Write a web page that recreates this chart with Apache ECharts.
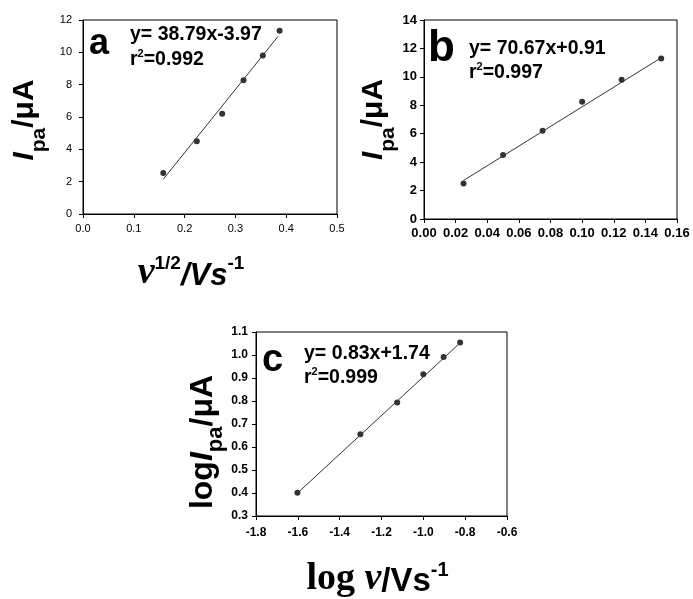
<!DOCTYPE html>
<html><head><meta charset="utf-8">
<script src="https://cdn.jsdelivr.net/npm/echarts@6/dist/echarts.min.js"></script>
<style>html,body{margin:0;padding:0;background:#fff}#c{width:693px;height:599px}</style>
</head><body><div id="c"></div>
<script>
// Panel a: Ipa vs v^(1/2)
var sqrtV = [0.158, 0.224, 0.274, 0.316, 0.354, 0.387];
var ipaA = [2.53, 4.5, 6.2, 8.27, 9.8, 11.33];
var fitA = [[0.158, 2.15], [0.384, 10.99]];
// Panel b: Ipa vs v
var scanV = [0.025, 0.05, 0.075, 0.1, 0.125, 0.15];
var ipaB = [2.5, 4.5, 6.2, 8.25, 9.8, 11.3];
var fitB = [[0.025, 2.71], [0.1505, 11.38]];
// Panel c: log Ipa vs log v
var logV = [-1.602, -1.301, -1.125, -1.0, -0.903, -0.824];
var logIpa = [0.401, 0.655, 0.793, 0.916, 0.991, 1.054];
var fitC = [[-1.6, 0.401], [-0.82, 1.056]];

var eqA = ['y= 38.79x-3.97', '0.992'];
var eqB = ['y= 70.67x+0.91', '0.997'];
var eqC = ['y= 0.83x+1.74', '0.999'];

function zip(a, b) { return a.map(function (v, i) { return [v, b[i]]; }); }

var chart = echarts.init(document.getElementById('c'), null, {renderer: 'canvas'});
var F = 'Arial, "Liberation Sans", sans-serif';
var S = '"Liberation Serif", "Times New Roman", serif';

function gridDef(l, t, w, h) {
  return {left: l, top: t, width: w, height: h, show: true, borderColor: '#000', borderWidth: 1, backgroundColor: 'transparent', containLabel: false};
}
function axisBase(lblSize, bold, margin) {
  return {
    axisLine: {show: true, onZero: false, lineStyle: {color: '#000', width: 1}},
    axisTick: {show: true, inside: false, length: 4, lineStyle: {color: '#000'}},
    splitLine: {show: false},
    axisLabel: {color: '#000', fontFamily: F, fontSize: lblSize, fontWeight: bold ? 'bold' : 'normal', margin: margin}
  };
}
function mk(o, extra) { return Object.assign({}, o, extra); }

function yRich(fs, sfs) {
  return {
    i: {fontFamily: F, fontSize: fs, fontStyle: 'italic', fontWeight: 'bold', color: '#000', lineHeight: 40, verticalAlign: 'top'},
    s: {fontFamily: F, fontSize: sfs, fontWeight: 'bold', color: '#000', lineHeight: 18, verticalAlign: 'bottom'},
    n: {fontFamily: F, fontSize: fs, fontWeight: 'bold', color: '#000', lineHeight: 40, verticalAlign: 'top'},
    lg: {fontFamily: F, fontSize: fs, fontWeight: 'bold', color: '#000', lineHeight: 40, verticalAlign: 'top'}
  };
}
function eqRich() {
  return {t: {font: 'bold 19.5px ' + F, fill: '#000', lineHeight: 22, verticalAlign: 'bottom'}, p: {font: 'bold 11px ' + F, fill: '#000', lineHeight: 11, verticalAlign: 'top'}};
}

var option = {
  animation: false,
  backgroundColor: '#fff',
  grid: [gridDef(83, 20, 254, 194), gridDef(424, 20, 253, 199), gridDef(256, 332, 251, 198)],
  xAxis: [
    mk(axisBase(11, false, 9), {gridIndex: 0, type: 'value', min: 0, max: 0.5, interval: 0.1,
      axisLabel: {color: '#000', fontFamily: F, fontSize: 11, margin: 9, formatter: function (v) { return v.toFixed(1); }},
      name: '{nu|ν}{sup|1/2}{n|/Vs}{sup|-1}', nameLocation: 'middle', nameGap: 40,
      nameTextStyle: {padding: [0, 38, 0, 0], rich: {
        nu: {fontFamily: S, fontSize: 38, fontStyle: 'italic', fontWeight: 'bold', color: '#000', lineHeight: 38, verticalAlign: 'bottom'},
        sup: {fontFamily: F, fontSize: 19, fontWeight: 'bold', color: '#000', lineHeight: 19, verticalAlign: 'top'},
        n: {fontFamily: F, fontSize: 31, fontStyle: 'italic', fontWeight: 'bold', color: '#000', lineHeight: 38, verticalAlign: 'bottom'}
      }}}),
    mk(axisBase(13, true, 8), {gridIndex: 1, type: 'value', min: 0, max: 0.16, interval: 0.02,
      axisLabel: {color: '#000', fontFamily: F, fontSize: 13, fontWeight: 'bold', margin: 8, formatter: function (v) { return v.toFixed(2); }}}),
    mk(axisBase(12, true, 11), {gridIndex: 2, type: 'value', min: -1.8, max: -0.6, interval: 0.2,
      axisLabel: {color: '#000', fontFamily: F, fontSize: 12, fontWeight: 'bold', margin: 11, formatter: function (v) { return v.toFixed(1); }},
      name: '{lg|log }{nu|ν}{n|/Vs}{sup|-1}', nameLocation: 'middle', nameGap: 44,
      nameTextStyle: {padding: [0, 8, 0, 0], rich: {
        lg: {fontFamily: S, fontSize: 38, fontWeight: 'bold', color: '#000', lineHeight: 38, verticalAlign: 'bottom'},
        nu: {fontFamily: S, fontSize: 38, fontStyle: 'italic', fontWeight: 'bold', color: '#000', lineHeight: 38, verticalAlign: 'bottom'},
        sup: {fontFamily: F, fontSize: 20, fontWeight: 'bold', color: '#000', lineHeight: 20, verticalAlign: 'top'},
        n: {fontFamily: F, fontSize: 33, fontWeight: 'bold', color: '#000', lineHeight: 38, verticalAlign: 'bottom'}
      }}})
  ],
  yAxis: [
    mk(axisBase(11, false, 11), {gridIndex: 0, type: 'value', min: 0, max: 12, interval: 2,
      name: '{i|I}{s|pa}{n|/μA}', nameLocation: 'middle', nameRotate: 90, nameGap: 33,
      nameTextStyle: {padding: [0, 6, 0, 0], rich: yRich(30, 21)}}),
    mk(axisBase(13, true, 7), {gridIndex: 1, type: 'value', min: 0, max: 14, interval: 2,
      name: '{i|I}{s|pa}{n|/μA}', nameLocation: 'middle', nameRotate: 90, nameGap: 22,
      nameTextStyle: {rich: yRich(30, 21)}}),
    mk(axisBase(12, true, 8), {gridIndex: 2, type: 'value', min: 0.3, max: 1.1, interval: 0.1,
      axisLabel: {color: '#000', fontFamily: F, fontSize: 12, fontWeight: 'bold', margin: 8, formatter: function (v) { return v.toFixed(1); }},
      name: '{lg|log}{i|I}{s|pa}{n|/μA}', nameLocation: 'middle', nameRotate: 90, nameGap: 25,
      nameTextStyle: {padding: [0, 36, 0, 0], rich: yRich(32, 22)}})
  ],
  series: [
    {type: 'line', xAxisIndex: 0, yAxisIndex: 0, data: fitA, showSymbol: false, symbol: 'none', lineStyle: {color: '#333', width: 1}},
    {type: 'scatter', xAxisIndex: 0, yAxisIndex: 0, data: zip(sqrtV, ipaA), symbolSize: 6, itemStyle: {color: '#000'}},
    {type: 'line', xAxisIndex: 1, yAxisIndex: 1, data: fitB, showSymbol: false, symbol: 'none', lineStyle: {color: '#333', width: 1}},
    {type: 'scatter', xAxisIndex: 1, yAxisIndex: 1, data: zip(scanV, ipaB), symbolSize: 6, itemStyle: {color: '#000'}},
    {type: 'line', xAxisIndex: 2, yAxisIndex: 2, data: fitC, showSymbol: false, symbol: 'none', lineStyle: {color: '#333', width: 1}},
    {type: 'scatter', xAxisIndex: 2, yAxisIndex: 2, data: zip(logV, logIpa), symbolSize: 6, itemStyle: {color: '#000'}}
  ],
  graphic: [
    {type: 'text', left: 89, top: 26, style: {text: 'a', font: 'bold 36px ' + F, fill: '#000'}},
    {type: 'text', left: 130, top: 25, style: {text: eqA[0], font: 'bold 19.5px ' + F, fill: '#000'}},
    {type: 'text', left: 130, top: 48, style: {text: '{t|r}{p|2}{t|=' + eqA[1] + '}', rich: eqRich()}},
    {type: 'text', left: 428, top: 27, style: {text: 'b', font: 'bold 44px ' + F, fill: '#000'}},
    {type: 'text', left: 469, top: 39, style: {text: eqB[0], font: 'bold 19.5px ' + F, fill: '#000'}},
    {type: 'text', left: 469, top: 61, style: {text: '{t|r}{p|2}{t|=' + eqB[1] + '}', rich: eqRich()}},
    {type: 'text', left: 262, top: 342, style: {text: 'c', font: 'bold 38px ' + F, fill: '#000'}},
    {type: 'text', left: 304, top: 344, style: {text: eqC[0], font: 'bold 19.5px ' + F, fill: '#000'}},
    {type: 'text', left: 304, top: 366, style: {text: '{t|r}{p|2}{t|=' + eqC[1] + '}', rich: eqRich()}}
  ]
};
chart.setOption(option);
</script></body></html>
